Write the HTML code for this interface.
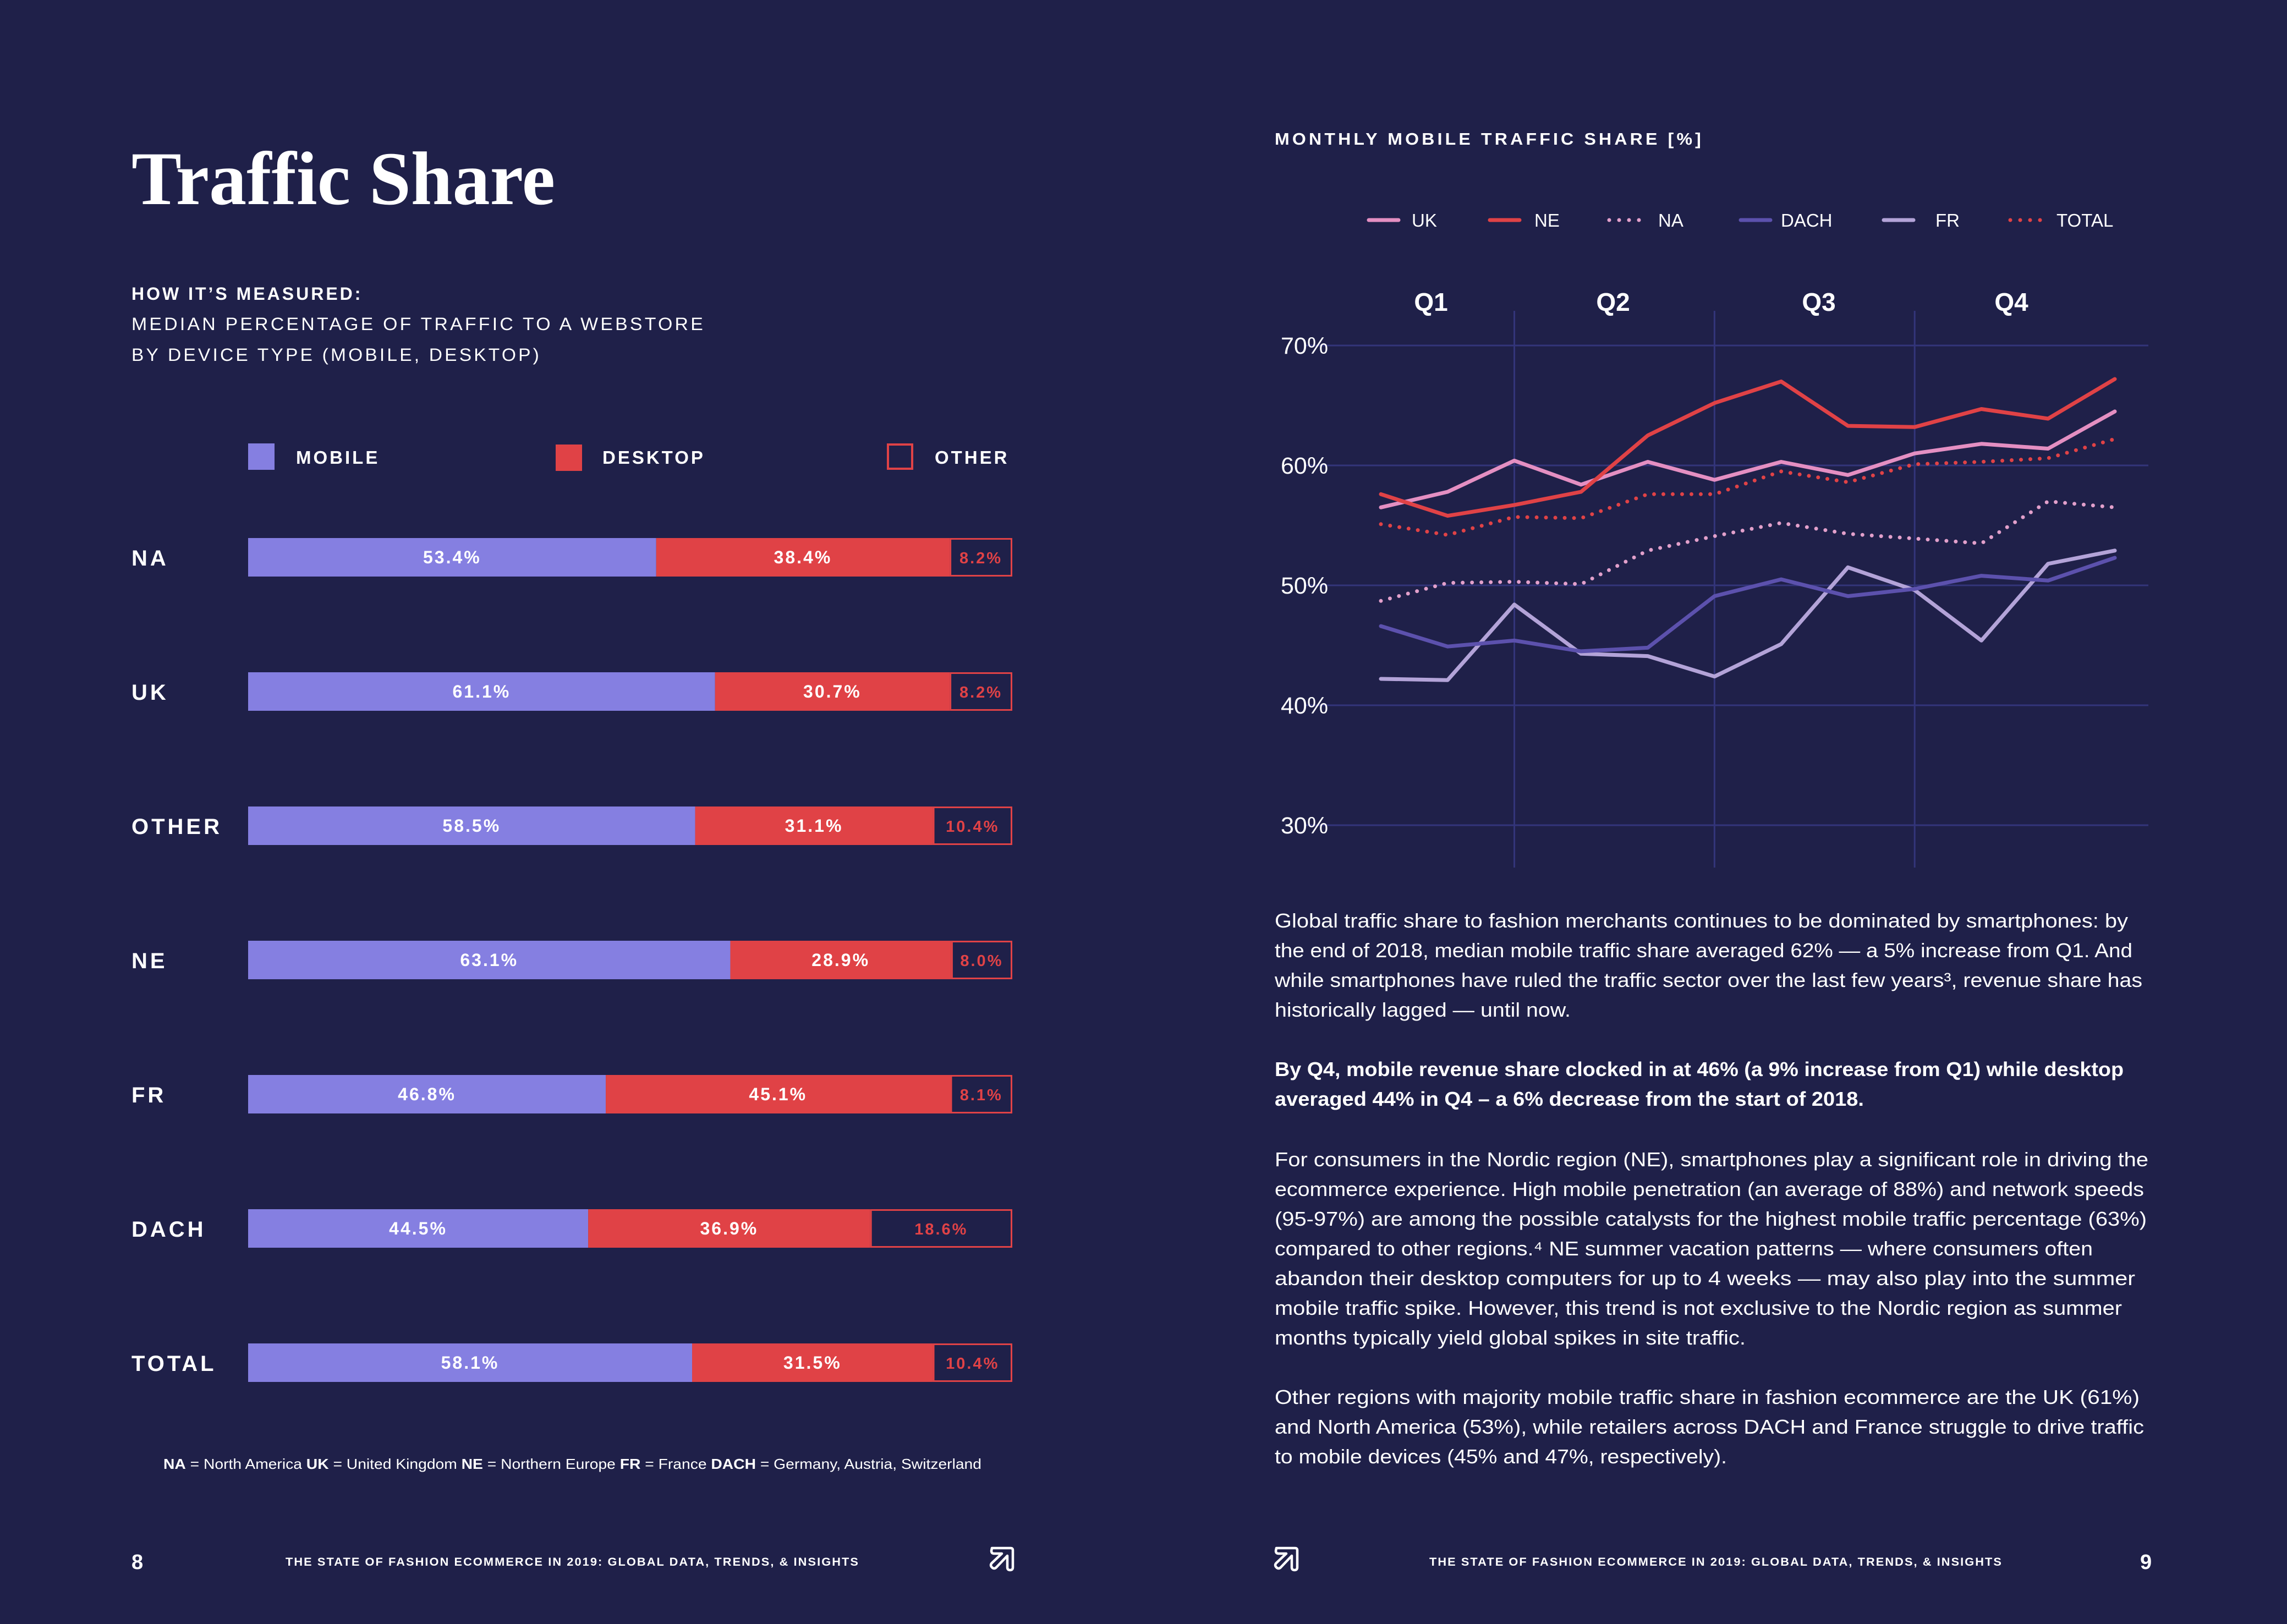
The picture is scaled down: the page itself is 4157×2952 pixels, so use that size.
<!DOCTYPE html>
<html><head><meta charset="utf-8"><style>
html,body{margin:0;padding:0;background:#1f2049;}
svg{display:block}
text{font-family:"Liberation Sans",sans-serif;fill:#fff}
</style></head><body>
<svg id="page" width="4157" height="2952" viewBox="0 0 4157 2952" xmlns="http://www.w3.org/2000/svg">
<rect width="4157" height="2952" fill="#1f2049"/>

<text x="239" y="371" font-family="Liberation Serif,serif" font-weight="bold" font-size="138" textLength="770" lengthAdjust="spacingAndGlyphs" style="font-family:'Liberation Serif',serif">Traffic Share</text>

<text x="239" y="545" font-size="32" font-weight="bold" letter-spacing="4">HOW IT’S MEASURED:</text>
<text x="239" y="600" font-size="32" letter-spacing="4" textLength="1043" lengthAdjust="spacingAndGlyphs">MEDIAN PERCENTAGE OF TRAFFIC TO A WEBSTORE</text>
<text x="239" y="656" font-size="32" letter-spacing="4" textLength="745" lengthAdjust="spacingAndGlyphs">BY DEVICE TYPE (MOBILE, DESKTOP)</text>

<g>
<rect x="451" y="806" width="48" height="48" fill="#857fe1"/>
<text x="538" y="843" font-size="33" font-weight="bold" letter-spacing="4">MOBILE</text>
<rect x="1010" y="808" width="48" height="48" fill="#e04246"/>
<text x="1095" y="843" font-size="33" font-weight="bold" letter-spacing="4">DESKTOP</text>
<rect x="1614" y="808" width="44" height="44" fill="none" stroke="#e04246" stroke-width="4"/>
<text x="1699" y="843" font-size="33" font-weight="bold" letter-spacing="4">OTHER</text>
</g>
<g id="bars"></g>

<text x="297" y="2670" font-size="26" textLength="1487" lengthAdjust="spacingAndGlyphs"><tspan font-weight="bold">NA</tspan> = North America  <tspan font-weight="bold">UK</tspan> = United Kingdom  <tspan font-weight="bold">NE</tspan> = Northern Europe  <tspan font-weight="bold">FR</tspan> = France  <tspan font-weight="bold">DACH</tspan> = Germany, Austria, Switzerland</text>

<text x="239" y="2852" font-size="38" font-weight="bold">8</text>
<text x="519" y="2846" font-size="21" font-weight="bold" letter-spacing="2" textLength="1043" lengthAdjust="spacingAndGlyphs">THE STATE OF FASHION ECOMMERCE IN 2019: GLOBAL DATA, TRENDS, &amp; INSIGHTS</text>
<path transform="translate(1799,2811)" d="M4,3 L38,3 Q42,3 42,7 L42,38 Q42,43 37,43 Q32,43 32,38 L32,17 L12,38 Q8,42 4,38 Q0,34 4,30 L22,13 L8,13 Q3,13 3,8 Z" fill="none" stroke="#fff" stroke-width="4.5" stroke-linejoin="round"/>

<path transform="translate(2316,2811)" d="M4,3 L38,3 Q42,3 42,7 L42,38 Q42,43 37,43 Q32,43 32,38 L32,17 L12,38 Q8,42 4,38 Q0,34 4,30 L22,13 L8,13 Q3,13 3,8 Z" fill="none" stroke="#fff" stroke-width="4.5" stroke-linejoin="round"/>
<text x="2598" y="2846" font-size="21" font-weight="bold" letter-spacing="2" textLength="1042" lengthAdjust="spacingAndGlyphs">THE STATE OF FASHION ECOMMERCE IN 2019: GLOBAL DATA, TRENDS, &amp; INSIGHTS</text>
<text x="3890" y="2852" font-size="38" font-weight="bold">9</text>

<text x="2317" y="263" font-size="31" font-weight="bold" letter-spacing="5" textLength="780" lengthAdjust="spacingAndGlyphs">MONTHLY MOBILE TRAFFIC SHARE [%]</text>
<g id="lineLegend"></g>
<g id="lines"></g>

<g font-size="36">
<text x="2317" y="1686" textLength="1551" lengthAdjust="spacingAndGlyphs">Global traffic share to fashion merchants continues to be dominated by smartphones: by</text>
<text x="2317" y="1740" textLength="1559" lengthAdjust="spacingAndGlyphs">the end of 2018, median mobile traffic share averaged 62% — a 5% increase from Q1. And</text>
<text x="2317" y="1794" textLength="1577" lengthAdjust="spacingAndGlyphs">while smartphones have ruled the traffic sector over the last few years³, revenue share has</text>
<text x="2317" y="1848" textLength="538" lengthAdjust="spacingAndGlyphs">historically lagged — until now.</text>
<text x="2317" y="1956" font-weight="bold" textLength="1543" lengthAdjust="spacingAndGlyphs">By Q4, mobile revenue share clocked in at 46% (a 9% increase from Q1) while desktop</text>
<text x="2317" y="2010" font-weight="bold" textLength="1071" lengthAdjust="spacingAndGlyphs">averaged 44% in Q4 – a 6% decrease from the start of 2018.</text>
<text x="2317" y="2120" textLength="1588" lengthAdjust="spacingAndGlyphs">For consumers in the Nordic region (NE), smartphones play a significant role in driving the</text>
<text x="2317" y="2174" textLength="1580" lengthAdjust="spacingAndGlyphs">ecommerce experience. High mobile penetration (an average of 88%) and network speeds</text>
<text x="2317" y="2228" textLength="1585" lengthAdjust="spacingAndGlyphs">(95-97%) are among the possible catalysts for the highest mobile traffic percentage (63%)</text>
<text x="2317" y="2282" textLength="1487" lengthAdjust="spacingAndGlyphs">compared to other regions.⁴ NE summer vacation patterns — where consumers often</text>
<text x="2317" y="2336" textLength="1564" lengthAdjust="spacingAndGlyphs">abandon their desktop computers for up to 4 weeks — may also play into the summer</text>
<text x="2317" y="2390" textLength="1540" lengthAdjust="spacingAndGlyphs">mobile traffic spike. However, this trend is not exclusive to the Nordic region as summer</text>
<text x="2317" y="2444" textLength="856" lengthAdjust="spacingAndGlyphs">months typically yield global spikes in site traffic.</text>
<text x="2317" y="2552" textLength="1572" lengthAdjust="spacingAndGlyphs">Other regions with majority mobile traffic share in fashion ecommerce are the UK (61%)</text>
<text x="2317" y="2606" textLength="1580" lengthAdjust="spacingAndGlyphs">and North America (53%), while retailers across DACH and France struggle to drive traffic</text>
<text x="2317" y="2660" textLength="822" lengthAdjust="spacingAndGlyphs">to mobile devices (45% and 47%, respectively).</text>
</g>
</svg>
<script>
// ---- bar chart data ----
const regions = ["NA","UK","OTHER","NE","FR","DACH","TOTAL"];
const mobileShare = [53.4,61.1,58.5,63.1,46.8,44.5,58.1];
const desktopShare = [38.4,30.7,31.1,28.9,45.1,36.9,31.5];
const otherShare = [8.2,8.2,10.4,8.0,8.1,18.6,10.4];

// ---- line chart data ----
const months = ["Jan","Feb","Mar","Apr","May","Jun","Jul","Aug","Sep","Oct","Nov","Dec"];
const quarterLabels = ["Q1","Q2","Q3","Q4"];
const yTicks = [30,40,50,60,70];
const ukSeries = [56.5,57.8,60.4,58.4,60.3,58.8,60.3,59.2,61.0,61.8,61.4,64.5];
const neSeries = [57.6,55.8,56.7,57.8,62.5,65.2,67.0,63.3,63.2,64.7,63.9,67.2];
const naSeries = [48.7,50.2,50.3,50.1,52.9,54.1,55.2,54.3,53.9,53.5,57.0,56.5];
const dachSeries = [46.6,44.9,45.4,44.5,44.8,49.1,50.5,49.1,49.7,50.8,50.4,52.3];
const frSeries = [42.2,42.1,48.4,44.3,44.1,42.4,45.1,51.5,49.6,45.4,51.8,52.9];
const totalSeries = [55.1,54.2,55.7,55.6,57.6,57.6,59.5,58.6,60.1,60.3,60.6,62.2];

const NS = "http://www.w3.org/2000/svg";
function mk(tag, attrs, parent){const e=document.createElementNS(NS,tag);for(const k in attrs)e.setAttribute(k,attrs[k]);parent.appendChild(e);return e;}

// bars
const barsG = document.getElementById('bars');
const bx0 = 451, bW = 1389, bH = 70;
function bxScale(p){return p/100*bW;}
function rowY(i){return 1013 + i*244;}
regions.forEach((r,i)=>{
  const cy = rowY(i), y = cy - bH/2;
  const lab = mk('text',{x:239,y:cy+15,'font-size':40,'font-weight':'bold','letter-spacing':5},barsG);
  
  
  lab.textContent = r;
  const segs = [[mobileShare[i],'#857fe1','mobile'],[desktopShare[i],'#e04246','desktop'],[otherShare[i],'other','other']];
  let x = bx0;
  segs.forEach(([v,c,n])=>{
    const w = bxScale(v);
    let rect;
    if(c==='other'){
      rect = mk('rect',{x:x+1.5,y:y+1.5,width:Math.max(w-3,0),height:bH-3,fill:'#1f2049',stroke:'#e04246','stroke-width':3},barsG);
    } else {
      rect = mk('rect',{x:x,y:y,width:w,height:bH,fill:c},barsG);
    }
    
    
    const t = mk('text',{x:x+w/2,y:cy+11,'font-size':n==='other'?29:32,'font-weight':'bold','letter-spacing':3,'text-anchor':'middle',fill:n==='other'?'#e04246':'#fff'},barsG);
    t.style.fill = n==='other'?'#e04246':'#fff';
    
    
    t.textContent = v.toFixed(1)+'%';
    x += w;
  });
});

// line chart
const linesG = document.getElementById('lines');
function xScale(i){return 2510 + i*(1334/(months.length-1));}
function yScale(v){return 628 + (70-v)*21.8;}
yTicks.forEach(t=>{
  const l = mk('line',{x1:2373,x2:3905,y1:yScale(t),y2:yScale(t),stroke:'#33357a','stroke-width':3},linesG);
  
  
  const tx = mk('text',{x:2328,y:yScale(t)+15,'font-size':43},linesG);
  
  
  tx.textContent = t+'%';
});
[2,5,8].forEach((m,k)=>{
  const x = xScale(m);
  const l = mk('line',{x1:x,x2:x,y1:565,y2:1577,stroke:'#33357a','stroke-width':3},linesG);
  
  
});
const qCenters=[2601,2932,3306,3656];
quarterLabels.forEach((q,k)=>{
  const t = mk('text',{x:qCenters[k],y:565,'font-size':46,'text-anchor':'middle','font-weight':'bold'},linesG);
  
  
  t.textContent = q;
});
const series = [
  ['fr',frSeries,'#b3a3d8',false],
  ['dach',dachSeries,'#5c51ad',false],
  ['na',naSeries,'#e2a0cb',true],
  ['total',totalSeries,'#e04246',true],
  ['uk',ukSeries,'#e48fc2',false],
  ['ne',neSeries,'#e04246',false]
];
series.forEach(([n,d,c,dot])=>{
  const pts = d.map((v,i)=>xScale(i).toFixed(1)+','+yScale(v).toFixed(1)).join(' ');
  const attrs = {points:pts,fill:'none',stroke:c,'stroke-width':7,'stroke-linejoin':'round','stroke-linecap':'round'};
  if(dot) attrs['stroke-dasharray']='0 17';
  const p = mk('polyline',attrs,linesG);
  
  
});

// line legend
const legG = document.getElementById('lineLegend');
const legItems = [['UK','#e48fc2',false,2484,2566],['NE','#e04246',false,2704,2789],['NA','#e2a0cb',true,2921,3014],['DACH','#5c51ad',false,3160,3237],['FR','#b3a3d8',false,3420,3518],['TOTAL','#e04246',true,3650,3738]];
legItems.forEach(([n,c,dot,lx,tx])=>{
  const a={x1:lx+4,x2:lx+58,y1:400,y2:400,stroke:c,'stroke-width':7,'stroke-linecap':'round'};
  if(dot){a['stroke-dasharray']='0 18';a.x2=lx+66;}
  const l = mk('line',a,legG);
  
  
  const t = mk('text',{x:tx,y:412,'font-size':33},legG);
  
  
  t.textContent = n;
});
</script>
</body></html>
